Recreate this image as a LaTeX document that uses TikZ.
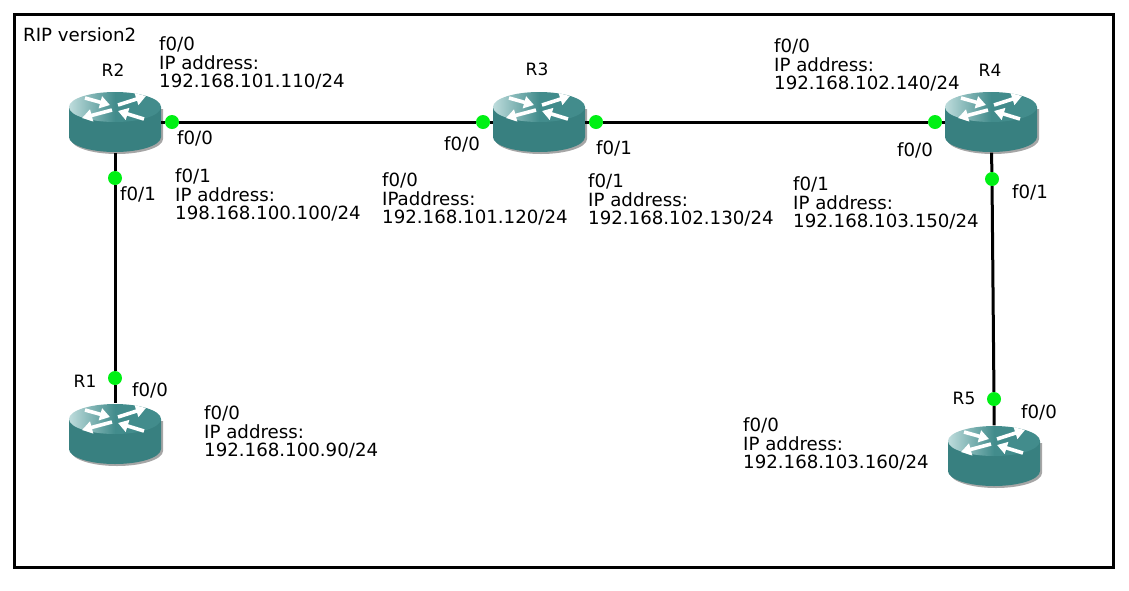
\documentclass[tikz,border=0pt]{standalone}
\usepackage{fontspec}
\usepackage{tikz}
\usetikzlibrary{arrows.meta}
\setmainfont{DejaVu Sans}
\definecolor{routerteal}{RGB}{66,140,140}
\definecolor{routerlight}{RGB}{190,220,220}
\definecolor{routerdark}{RGB}{56,128,128}
\definecolor{portgreen}{RGB}{0,240,20}
\tikzset{
  routerbox/.style={rectangle, minimum width=92, minimum height=61, inner sep=0},
  routername/.style={inner sep=0, font=\fontsize{17}{19}\selectfont},
  port/.style={circle, fill=portgreen, minimum size=14, inner sep=0},
  portlabel/.style={inner sep=0, anchor=west, font=\fontsize{18.2}{18.4}\selectfont},
  iplabel/.style={inner sep=0, anchor=west, align=left, font=\fontsize{18.2}{18.4}\selectfont},
  link/.style={line width=3},
  flow/.style={white, line width=3.6, -{Triangle[width=12,length=10]}},
  router/.pic={
    \fill[gray!70] (-44,-13) -- (48,-13) -- (48,17) arc[start angle=0,end angle=180,x radius=46,y radius=15] -- cycle;
    \fill[routerdark] (-46,-15) -- (46,-15) -- (46,15) arc[start angle=0,end angle=180,x radius=46,y radius=15] -- cycle;
    \shade[left color=routerlight, right color=routerteal, middle color=routerteal] (0,-15) ellipse[x radius=46, y radius=15];
    \draw[flow] (-30,-24) -- (-5,-17);
    \draw[flow] (3,-17) -- (31,-26);
    \draw[flow] (-3,-12) -- (-33,-4);
    \draw[flow] (29,-3) -- (3,-11);
  }
}
\begin{document}
\begin{tikzpicture}[x=1pt,y=-1pt]
  \useasboundingbox (0,0) rectangle (1129,590);
  \draw[line width=3] (14,14) rectangle (1113,567);
  % routers
  \foreach \rname/\rx/\ry in {R1/115/434, R2/115/122, R3/539/122, R4/991/122, R5/994/456} {
    \pic at (\rx,\ry) {router};
    \node[routerbox] (\rname) at (\rx,\ry) {};
  }
  % ports
  \node[port] (R2e) at (172,122) {};
  \node[port] (R2s) at (115,178) {};
  \node[port] (R1n) at (115,378) {};
  \node[port] (R3w) at (483,122) {};
  \node[port] (R3e) at (596,122) {};
  \node[port] (R4w) at (935,122) {};
  \node[port] (R4s) at (992,179) {};
  \node[port] (R5n) at (994,399) {};
  % links
  \draw[link] (R2) -- (R2e) -- (R3w) -- (R3);
  \draw[link] (R3) -- (R3e) -- (R4w) -- (R4);
  \draw[link] (R2) -- (R2s) -- (R1n) -- (R1);
  \draw[link] (R4) -- (R4s) -- (R5n) -- (R5);
  % names
  \node[routername] (nameR2) at (113,70) {R2};
  \node[routername] (nameR3) at (537,69) {R3};
  \node[routername] (nameR4) at (990,70) {R4};
  \node[routername] (nameR1) at (85,381) {R1};
  \node[routername] (nameR5) at (964,398) {R5};
  % port labels
  \node[portlabel] (lblR2e) at (177,138) {f0/0};
  \node[portlabel] (lblR2s) at (120,194) {f0/1};
  \node[portlabel] (lblR1n) at (132,390) {f0/0};
  \node[portlabel] (lblR3w) at (444,144) {f0/0};
  \node[portlabel] (lblR3e) at (596,148) {f0/1};
  \node[portlabel] (lblR4w) at (897,150) {f0/0};
  \node[portlabel] (lblR4s) at (1012,192) {f0/1};
  \node[portlabel] (lblR5n) at (1021,412) {f0/0};
  % addresses
  \node[portlabel] (title) at (23,35) {RIP version2};
  \node[iplabel] (ipR2e) at (159,63) {f0/0\\IP address:\\192.168.101.110/24};
  \node[iplabel] (ipR2s) at (175,195) {f0/1\\IP address:\\198.168.100.100/24};
  \node[iplabel] (ipR3w) at (382,199) {f0/0\\IPaddress:\\192.168.101.120/24};
  \node[iplabel] (ipR3e) at (588,200) {f0/1\\IP address:\\192.168.102.130/24};
  \node[iplabel] (ipR4w) at (774,65) {f0/0\\IP address:\\192.168.102.140/24};
  \node[iplabel] (ipR4s) at (793,203) {f0/1\\IP address:\\192.168.103.150/24};
  \node[iplabel] (ipR1n) at (204,432) {f0/0\\IP address:\\192.168.100.90/24};
  \node[iplabel] (ipR5n) at (743,444) {f0/0\\IP address:\\192.168.103.160/24};
\end{tikzpicture}
\end{document}
